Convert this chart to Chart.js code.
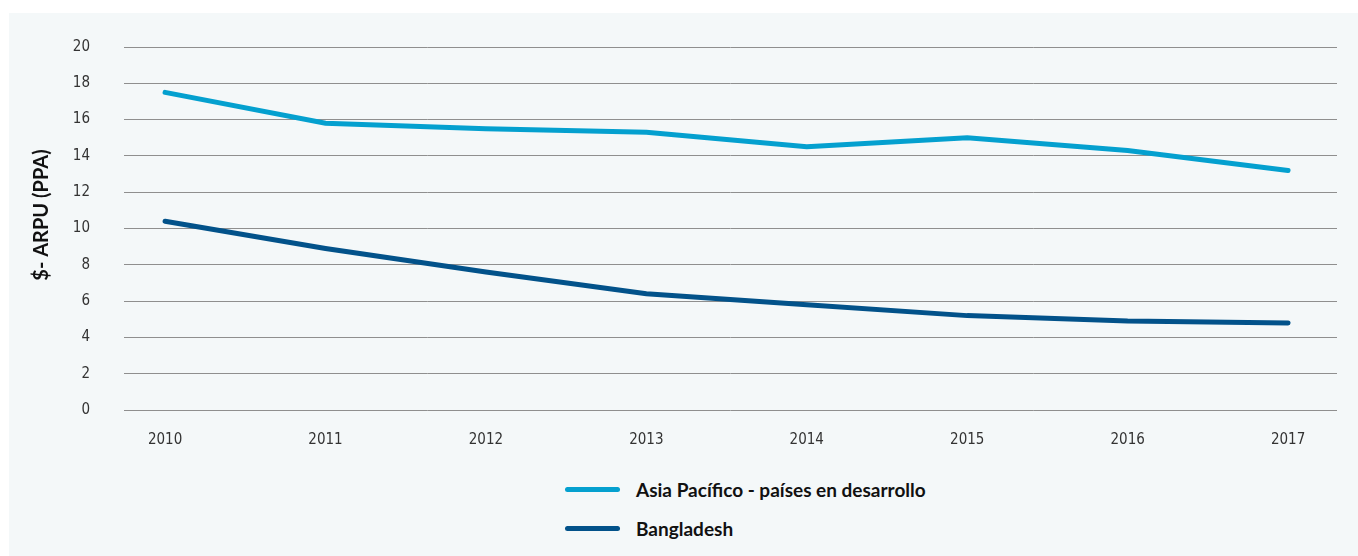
<!DOCTYPE html>
<html lang="es">
<head>
    <meta charset="UTF-8">
    <title>ARPU Asia Pacífico vs Bangladesh</title>
    <script src="https://cdn.jsdelivr.net/npm/chart.js"></script>
    <style>
        body { margin: 0; background: #fff; width: 1358px; height: 556px; overflow: hidden; }
        .panel { position: absolute; left: 9px; top: 13px; width: 1349px; height: 543px; background: #f4f8f9; }
        .chart-box { position: absolute; left: 0; top: 0; width: 1349px; height: 440px; }
        .legend { position: absolute; left: 556px; top: 457px; font-family: Lato, "Open Sans", sans-serif; font-weight: 700; font-size: 19px; color: #111; }
        .legend-item { display: flex; align-items: center; height: 39px; }
        .legend-line { width: 55px; height: 5px; border-radius: 3px; margin-right: 16px; }
    </style>
</head>
<body>
    <div class="panel">
        <div class="chart-box">
            <canvas id="arpuChart"></canvas>
        </div>
        <div class="legend" id="legend"></div>
    </div>

    <script>
        // Data
        const years = [2010, 2011, 2012, 2013, 2014, 2015, 2016, 2017];
        const asiaPacifico = [17.5, 15.8, 15.5, 15.3, 14.5, 15.0, 14.3, 13.2];
        const bangladesh = [10.4, 8.9, 7.6, 6.4, 5.8, 5.2, 4.9, 4.8];
        const yTicks = [0, 2, 4, 6, 8, 10, 12, 14, 16, 18, 20];
        const seriesNames = ['Asia Pacífico - países en desarrollo', 'Bangladesh'];
        const yTitle = '$- ARPU (PPA)';

        const tickFont = { family: '"DejaVu Sans Condensed", "DejaVu Sans", sans-serif', size: 15 };

        const toPoints = (vals) => years.map((yr, i) => ({ x: yr, y: vals[i] }));

        // y axis title, drawn a bit above the axis centre like the original
        const yTitlePlugin = {
            id: 'yTitle',
            afterDraw(chart) {
                const ctx = chart.ctx;
                ctx.save();
                ctx.translate(33, 202);
                ctx.rotate(-Math.PI / 2);
                ctx.font = 'bold 20px Lato, "Open Sans", sans-serif';
                ctx.fillStyle = '#111';
                ctx.textAlign = 'center';
                ctx.textBaseline = 'middle';
                ctx.fillText(yTitle, 0, 0);
                ctx.restore();
            }
        };

        const chart = new Chart(document.getElementById('arpuChart'), {
            type: 'line',
            data: {
                datasets: [{
                    label: seriesNames[0],
                    data: toPoints(asiaPacifico),
                    borderColor: '#04a0cf',
                    borderWidth: 5,
                    borderCapStyle: 'round',
                    pointRadius: 0,
                    tension: 0
                }, {
                    label: seriesNames[1],
                    data: toPoints(bangladesh),
                    borderColor: '#02528a',
                    borderWidth: 5,
                    borderCapStyle: 'round',
                    pointRadius: 0,
                    tension: 0
                }]
            },
            options: {
                responsive: true,
                maintainAspectRatio: false,
                animation: false,
                layout: { padding: { left: 20, right: 21, top: 34, bottom: 3 } },
                plugins: {
                    legend: { display: false },
                    tooltip: { enabled: false }
                },
                scales: {
                    x: {
                        type: 'linear',
                        min: 2009.744,
                        max: 2017.305,
                        afterBuildTicks: (scale) => { scale.ticks = years.map(v => ({ value: v })); },
                        afterFit: (scale) => {
                            scale.height = 40;
                            scale.paddingLeft = 0;
                            scale.paddingRight = 0;
                        },
                        grid: { display: false },
                        border: { display: false },
                        ticks: {
                            font: tickFont,
                            color: '#333',
                            padding: 13,
                            maxRotation: 0,
                            callback: (v) => String(v)
                        }
                    },
                    y: {
                        min: 0,
                        max: 20,
                        afterBuildTicks: (scale) => { scale.ticks = yTicks.map(v => ({ value: v })); },
                        afterFit: (scale) => {
                            scale.width = 95;
                            scale.paddingTop = 0;
                            scale.paddingBottom = 0;
                        },
                        grid: { color: '#8f8f8f', lineWidth: 1, drawTicks: false },
                        border: { display: false },
                        ticks: { font: tickFont, color: '#333', padding: 34 }
                    }
                }
            },
            plugins: [yTitlePlugin]
        });

        // Legend built from the datasets
        const legend = document.getElementById('legend');
        chart.data.datasets.forEach(ds => {
            const item = document.createElement('div');
            item.className = 'legend-item';
            const line = document.createElement('span');
            line.className = 'legend-line';
            line.style.background = ds.borderColor;
            const label = document.createElement('span');
            label.textContent = ds.label;
            item.appendChild(line);
            item.appendChild(label);
            legend.appendChild(item);
        });
    </script>
</body>
</html>
